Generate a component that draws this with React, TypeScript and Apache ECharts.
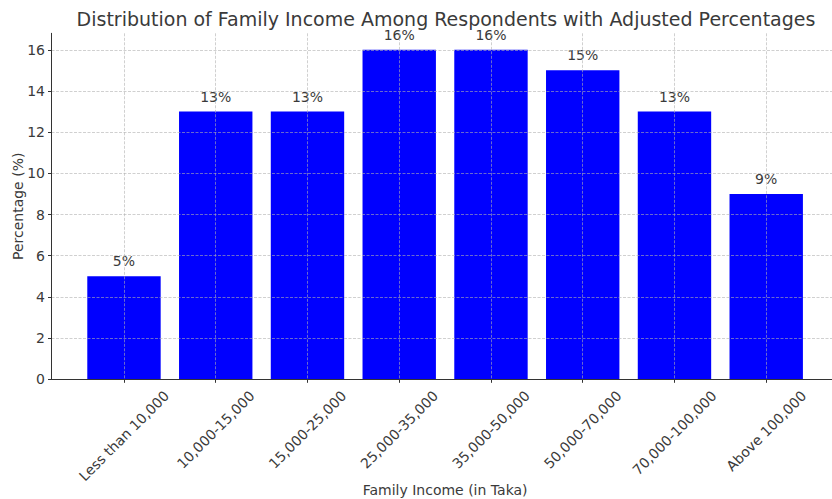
import React, { useEffect, useRef } from "react";
import * as echarts from "echarts";

const categories = [
  "Less than 10,000",
  "10,000-15,000",
  "15,000-25,000",
  "25,000-35,000",
  "35,000-50,000",
  "50,000-70,000",
  "70,000-100,000",
  "Above 100,000",
];
const percentages = [5, 13, 13, 16, 16, 15, 13, 9];
const yTicks = [0, 2, 4, 6, 8, 10, 12, 14, 16];
const xPositions = categories.map((_, i) => i);

const FONT = "DejaVu Sans";
const TEXT = "#3a3a3a";
const TICK_FS = 14;

function measure(text: string, size: number): number {
  const c = document.createElement("canvas");
  const ctx = c.getContext("2d");
  if (!ctx) return text.length * size * 0.6;
  ctx.font = `${size}px "${FONT}"`;
  return ctx.measureText(text).width;
}

export default function App() {
  const ref = useRef<HTMLDivElement>(null);
  useEffect(() => {
    if (!ref.current) return;
    const chart = echarts.init(ref.current, undefined, { renderer: "svg" });
    const widths = categories.map((c) => measure(c, TICK_FS));
    const splitStyle = { color: "#b0b0b0", width: 0.8, type: [3, 1.5] as any, opacity: 0.75 };
    chart.setOption({
      animation: false,
      backgroundColor: "#ffffff",
      title: {
        text: "Distribution of Family Income Among Respondents with Adjusted Percentages",
        left: 441,
        textAlign: "center",
        top: 4,
        textStyle: { fontFamily: FONT, fontSize: 19, fontWeight: "normal", color: TEXT },
      },
      grid: { left: 51.5, right: -6.7, top: 33.3, bottom: 119.7, outerBoundsMode: "none", containLabel: false },
      xAxis: {
        type: "value",
        min: -0.79,
        max: 7.79,
        z: 5,
        name: "Family Income (in Taka)",
        nameLocation: "middle",
        nameGap: 104,
        nameMoveOverlap: false,
        nameTextStyle: { fontFamily: FONT, fontSize: TICK_FS, color: TEXT, verticalAlign: "top" },
        axisLine: { show: true, onZero: false, lineStyle: { color: "#333", width: 1 } },
        axisTick: { show: true, customValues: xPositions, length: 3.5, lineStyle: { color: "#333", width: 1 } },
        axisLabel: { show: false, customValues: xPositions },
        splitLine: { show: true, lineStyle: splitStyle },
      },
      yAxis: {
        type: "value",
        min: 0,
        max: 16.8,
        z: 5,
        name: "Percentage (%)",
        nameLocation: "middle",
        nameRotate: 90,
        nameGap: 27,
        nameMoveOverlap: false,
        nameTextStyle: { fontFamily: FONT, fontSize: TICK_FS, color: TEXT },
        axisLine: { show: true, onZero: false, lineStyle: { color: "#333", width: 1 } },
        axisTick: { show: true, customValues: yTicks, length: 3.5, lineStyle: { color: "#333", width: 1 } },
        axisLabel: { customValues: yTicks, margin: 6.5, fontFamily: FONT, fontSize: TICK_FS, color: TEXT },
        splitLine: { show: true, lineStyle: splitStyle },
      },
      series: [
        {
          type: "bar",
          data: percentages.map((v, i) => [xPositions[i], v]),
          barWidth: "80%",
          itemStyle: { color: "#0000ff" },
          label: {
            show: true,
            position: "top",
            distance: 8,
            formatter: (p: any) => `${p.value[1]}%`,
            fontFamily: FONT,
            fontSize: TICK_FS,
            color: TEXT,
          },
        },
        {
          type: "custom",
          clip: false,
          silent: true,
          data: xPositions.map((x) => [x, 0]),
          encode: { x: 0, y: 1 },
          renderItem: (params: any, api: any) => {
            const i = params.dataIndex;
            const pt = api.coord([api.value(0), 0]);
            const w = widths[i];
            const h = TICK_FS;
            const half = ((w + h) * Math.SQRT1_2) / 2;
            return {
              type: "text",
              x: pt[0],
              y: pt[1] + 9 + half,
              rotation: Math.PI / 4,
              style: {
                text: categories[i],
                fontFamily: FONT,
                fontSize: TICK_FS,
                fill: TEXT,
                align: "center",
                verticalAlign: "middle",
              },
            };
          },
        },
      ],
    });
    return () => chart.dispose();
  }, []);
  return (
    <div
      ref={ref}
      style={{ position: "fixed", left: 0, top: 0, width: 832, height: 499, background: "#fff" }}
    />
  );
}
